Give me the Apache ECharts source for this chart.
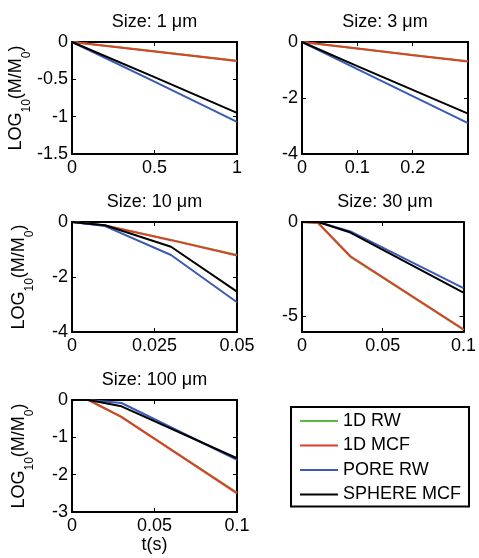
<!DOCTYPE html>
<html>
<head>
<meta charset="utf-8">
<script src="https://cdn.jsdelivr.net/npm/echarts@6/dist/echarts.min.js"></script>
<style>
html,body{margin:0;padding:0;background:#fff;}
#chart{width:479px;height:558px;}
</style>
</head>
<body>
<div id="chart"></div>
<script>
// ---- Data ----
const seriesNames = ['1D RW', '1D MCF', 'PORE RW', 'SPHERE MCF'];
const titles = ['Size: 1 μm', 'Size: 3 μm', 'Size: 10 μm', 'Size: 30 μm', 'Size: 100 μm'];

// Size 1 um
const t1 = [0, 0.5, 1];
const rw1d_1 = [0, -0.125, -0.25];
const mcf1d_1 = [0, -0.127, -0.255];
const poreRw_1 = [0, -0.53, -1.07];
const sphMcf_1 = [0, -0.47, -0.95];

// Size 3 um
const t2 = [0, 0.1, 0.2, 0.3];
const rw1d_2 = [0, -0.23, -0.46, -0.69];
const mcf1d_2 = [0, -0.23, -0.47, -0.7];
const poreRw_2 = [0, -0.97, -1.93, -2.9];
const sphMcf_2 = [0, -0.86, -1.71, -2.56];

// Size 10 um
const t3 = [0, 0.01, 0.03, 0.05];
const rw1d_3 = [0, -0.13, -0.65, -1.2];
const mcf1d_3 = [0, -0.13, -0.66, -1.22];
const poreRw_3 = [0, -0.15, -1.2, -2.92];
const sphMcf_3 = [0, -0.12, -0.9, -2.53];

// Size 30 um
const t4 = [0, 0.01, 0.03, 0.1];
const rw1d_4 = [0, -0.05, -1.85, -5.72];
const mcf1d_4 = [0, -0.05, -1.82, -5.7];
const poreRw_4 = [0, 0, -0.5, -3.51];
const sphMcf_4 = [0, 0, -0.56, -3.75];

// Size 100 um
const t5 = [0, 0.01, 0.03, 0.1];
const rw1d_5 = [0, 0, -0.46, -2.48];
const mcf1d_5 = [0, 0, -0.45, -2.5];
const poreRw_5 = [0, 0, -0.08, -1.6];
const sphMcf_5 = [0, 0, -0.17, -1.56];

// Tick labels
const xTicks1 = [0, 0.5, 1];
const yTicks1 = [-1.5, -1, -0.5, 0];
const xTicks2 = [0, 0.1, 0.2];
const yTicks2 = [-4, -2, 0];
const xTicks3 = [0, 0.025, 0.05];
const yTicks3 = [-4, -2, 0];
const xTicks4 = [0, 0.05, 0.1];
const yTicks4 = [-5, 0];
const xTicks5 = [0, 0.05, 0.1];
const yTicks5 = [-3, -2, -1, 0];

// ---- Layout / styles ----
const colors = ['#5DB83B', '#D9412B', '#3A5BB5', '#000000'];
const FONT = 'Liberation Sans, Arial, sans-serif';
const FS = 18;

const panels = [
  {t: t1, ys: [rw1d_1, mcf1d_1, poreRw_1, sphMcf_1], xr: [0, 1], yr: [-1.5, 0], xt: xTicks1, yt: yTicks1,
   grid: {left: 72, top: 42, width: 165, height: 112}, yName: true, xName: false},
  {t: t2, ys: [rw1d_2, mcf1d_2, poreRw_2, sphMcf_2], xr: [0, 0.3], yr: [-4, 0], xt: xTicks2, yt: yTicks2,
   grid: {left: 302, top: 42, width: 166, height: 112}, yName: false, xName: false},
  {t: t3, ys: [rw1d_3, mcf1d_3, poreRw_3, sphMcf_3], xr: [0, 0.05], yr: [-4, 0], xt: xTicks3, yt: yTicks3,
   grid: {left: 72, top: 222, width: 165, height: 110}, yName: true, xName: false},
  {t: t4, ys: [rw1d_4, mcf1d_4, poreRw_4, sphMcf_4], xr: [0, 0.1], yr: [-5.84, 0], xt: xTicks4, yt: yTicks4,
   grid: {left: 302, top: 222, width: 166, height: 110}, yName: false, xName: false},
  {t: t5, ys: [rw1d_5, mcf1d_5, poreRw_5, sphMcf_5], xr: [0, 0.1], yr: [-3, 0], xt: xTicks5, yt: yTicks5,
   grid: {left: 72, top: 400, width: 165, height: 112}, yName: true, xName: true}
];

const fmt = v => String(Math.round(v * 10000) / 10000);
const lineStyle = {color: '#000', width: 2};

const grids = [], xAxes = [], yAxes = [], series = [], titleArr = [];
panels.forEach((p, i) => {
  grids.push(Object.assign({containLabel: false}, p.grid));
  titleArr.push({
    text: titles[i],
    left: p.grid.left + p.grid.width / 2,
    top: p.grid.top - 29,
    textAlign: 'center',
    padding: 0,
    textStyle: {fontFamily: FONT, fontSize: FS, fontWeight: 'normal', color: '#000'}
  });
  const common = {
    gridIndex: i, type: 'value', splitLine: {show: false},
    axisLine: {show: true, onZero: false, lineStyle: lineStyle}
  };
  // bottom x
  xAxes.push(Object.assign({}, common, {
    position: 'bottom', min: p.xr[0], max: p.xr[1],
    axisTick: {show: true, inside: true, length: 4, customValues: p.xt, lineStyle: {color: '#000', width: 1}},
    axisLabel: {show: true, customValues: p.xt, formatter: fmt, margin: 5, color: '#000', fontFamily: FONT, fontSize: FS},
    name: p.xName ? 't(s)' : '', nameLocation: 'middle', nameGap: 24,
    nameTextStyle: {fontFamily: FONT, fontSize: FS, color: '#000'}
  }));
  // top x (box)
  xAxes.push(Object.assign({}, common, {
    position: 'top', min: p.xr[0], max: p.xr[1],
    axisTick: {show: true, inside: true, length: 4, customValues: p.xt, lineStyle: {color: '#000', width: 1}},
    axisLabel: {show: false}
  }));
  // left y
  yAxes.push(Object.assign({}, common, {
    position: 'left', min: p.yr[0], max: p.yr[1],
    axisTick: {show: true, inside: true, length: 4, customValues: p.yt, lineStyle: {color: '#000', width: 1}},
    axisLabel: {show: true, customValues: p.yt, formatter: fmt, margin: 4, color: '#000', fontFamily: FONT, fontSize: FS},
    name: p.yName ? '{n|LOG}{s|10}{n|(M/M}{s|0}{n|)}' : '',
    nameLocation: 'middle', nameRotate: 90, nameGap: 36,
    nameTextStyle: {
      fontFamily: FONT, fontSize: FS, color: '#000',
      rich: {
        n: {fontFamily: FONT, fontSize: FS, color: '#000', verticalAlign: 'top', lineHeight: 22},
        s: {fontFamily: FONT, fontSize: 12, color: '#000', verticalAlign: 'bottom', lineHeight: 26}
      }
    }
  }));
  // right y (box)
  yAxes.push(Object.assign({}, common, {
    position: 'right', min: p.yr[0], max: p.yr[1],
    axisTick: {show: true, inside: true, length: 4, customValues: p.yt, lineStyle: {color: '#000', width: 1}},
    axisLabel: {show: false}
  }));
  p.ys.forEach((vals, k) => {
    series.push({
      name: seriesNames[k], type: 'line',
      xAxisIndex: 2 * i, yAxisIndex: 2 * i,
      data: p.t.map((x, j) => [x, vals[j]]),
      symbol: 'none', showSymbol: false, silent: true, animation: false,
      lineStyle: {color: colors[k], width: 2}, itemStyle: {color: colors[k]},
      z: 2 + k
    });
  });
});

const chart = echarts.init(document.getElementById('chart'), null, {renderer: 'canvas'});
chart.setOption({
  animation: false,
  backgroundColor: '#fff',
  title: titleArr,
  grid: grids,
  xAxis: xAxes,
  yAxis: yAxes,
  series: series,
  legend: {
    data: seriesNames,
    orient: 'vertical',
    left: 291, top: 407,
    padding: [4, 8, 2, 9],
    backgroundColor: '#fff',
    borderColor: '#000', borderWidth: 2,
    icon: 'rect', itemWidth: 38, itemHeight: 2, itemGap: 4.5,
    textStyle: {fontFamily: FONT, fontSize: FS, color: '#000', lineHeight: 20, padding: [0, 0, 0, 0]},
    selectedMode: false
  }
});
</script>
</body>
</html>
